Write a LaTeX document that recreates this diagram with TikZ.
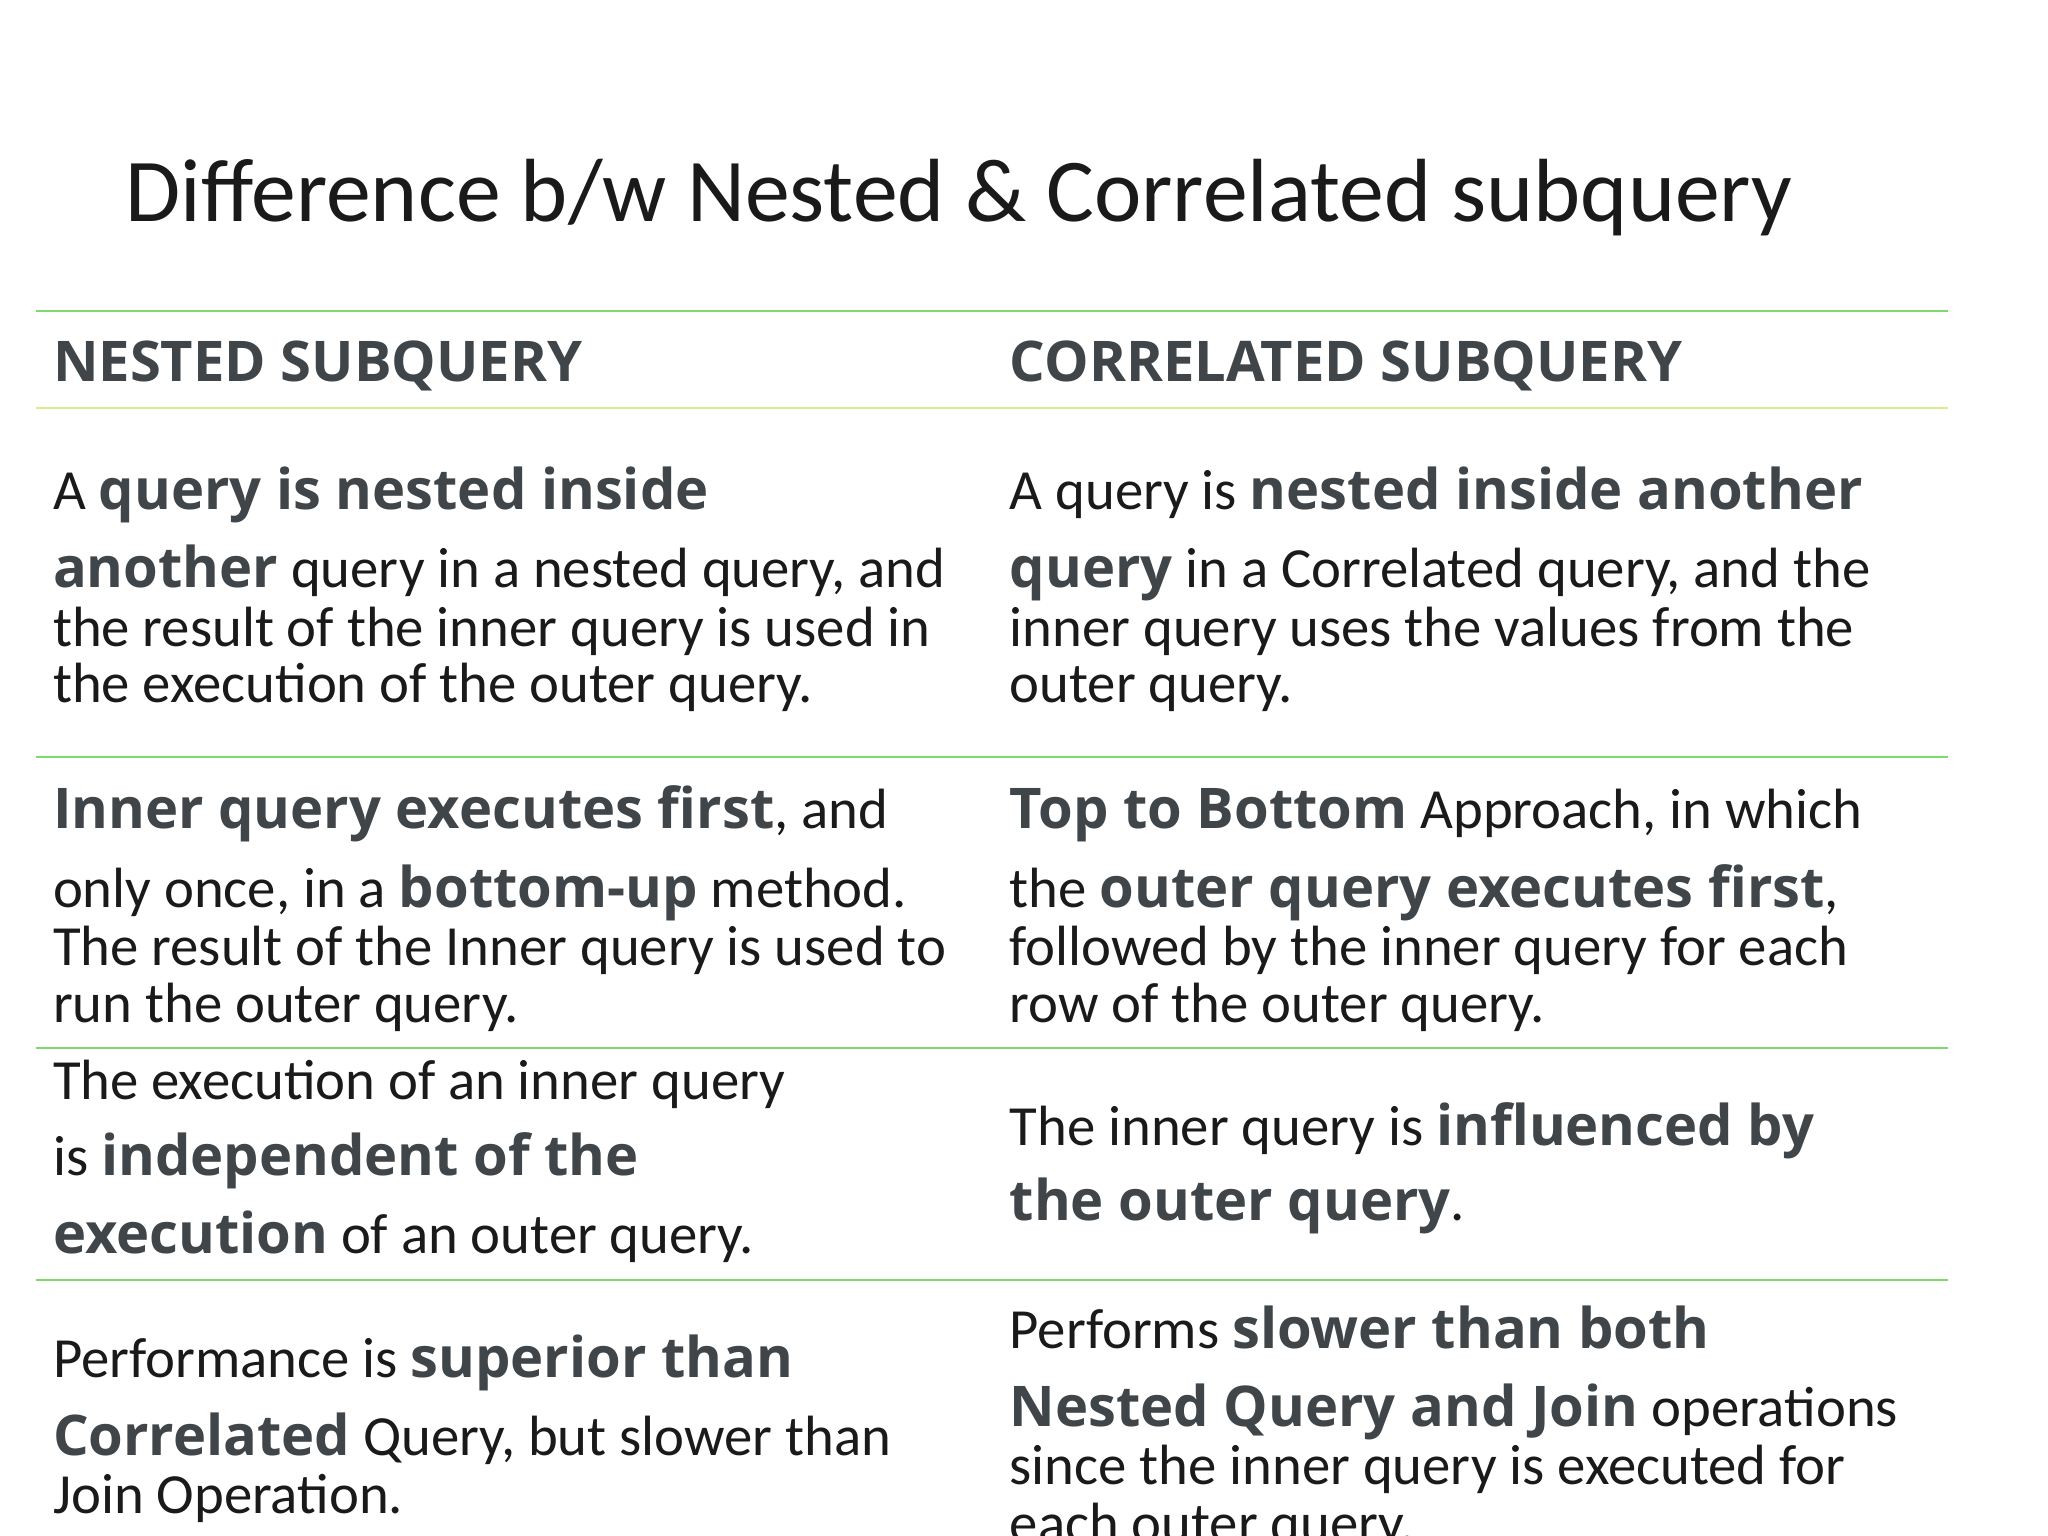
\documentclass[tikz,border=0pt]{standalone}
\usepackage{fontspec}
\setmainfont{Carlito}
\newfontfamily\osb{Open Sans}[UprightFont=* Bold]
\definecolor{txt}{HTML}{1A1A1A}
\definecolor{bld}{HTML}{3F4548}
\definecolor{gline}{HTML}{7DDB6E}
\definecolor{yline}{HTML}{D6EE8C}
\newcommand{\B}[1]{{\osb\color{bld}\fontsize{42.5}{48}\selectfont #1}}
\begin{document}
\begin{tikzpicture}[x=1pt,y=-1pt,
  ln/.style={anchor=base west,inner sep=0pt,text=txt,font=\fontsize{43}{48}\selectfont},
  hd/.style={anchor=base west,inner sep=0pt,text=bld,font=\osb\fontsize{42.5}{48}\selectfont},
  rule/.style={gline,line width=1.5pt}]
\useasboundingbox[fill=white] (0,0) rectangle (1552,1164);
\node[anchor=base west,inner sep=0pt,text=txt,font=\fontsize{68}{72}\selectfont] (title) at (95,168) {Difference b/w Nested \& Correlated subquery};
\coordinate (l0a) at (27,236); \coordinate (l0b) at (1476,236);
\coordinate (l1a) at (27,309); \coordinate (l1b) at (1476,309);
\coordinate (l2a) at (27,574); \coordinate (l2b) at (1476,574);
\coordinate (l3a) at (27,794); \coordinate (l3b) at (1476,794);
\coordinate (l4a) at (27,970); \coordinate (l4b) at (1476,970);
\draw[rule] (l0a)--(l0b); \draw[yline,line width=1.5pt] (l1a)--(l1b);
\draw[rule] (l2a)--(l2b); \draw[rule] (l3a)--(l3b); \draw[rule] (l4a)--(l4b);
\node[hd] (h1) at (40,289) {NESTED SUBQUERY};
\node[hd] (h2) at (765,289) {CORRELATED SUBQUERY};
% row 1
\node[ln] (a1) at (40,386) {A \B{query is nested inside}};
\node[ln] (a2) at (40,445) {\B{another} query in a nested query, and};
\node[ln] (a3) at (40,490) {the result of the inner query is used in};
\node[ln] (a4) at (40,532) {the execution of the outer query.};
\node[ln] (b1) at (765,386) {A query is \B{nested inside another}};
\node[ln] (b2) at (765,445) {\B{query} in a Correlated query, and the};
\node[ln] (b3) at (765,490) {inner query uses the values from the};
\node[ln] (b4) at (765,532) {outer query.};
% row 2
\node[ln] (c1) at (40,628) {\B{Inner query executes first}, and};
\node[ln] (c2) at (40,688) {only once, in a \B{bottom-up} method.};
\node[ln] (c3) at (40,732) {The result of the Inner query is used to};
\node[ln] (c4) at (40,775) {run the outer query.};
\node[ln] (d1) at (765,628) {\B{Top to Bottom} Approach, in which};
\node[ln] (d2) at (765,688) {the \B{outer query executes first},};
\node[ln] (d3) at (765,732) {followed by the inner query for each};
\node[ln] (d4) at (765,775) {row of the outer query.};
% row 3
\node[ln] (e1) at (40,833) {The execution of an inner query};
\node[ln] (e2) at (40,891) {is \B{independent of the}};
\node[ln] (e3) at (40,950) {\B{execution} of an outer query.};
\node[ln] (f1) at (765,868) {The inner query is \B{influenced by}};
\node[ln] (f2) at (765,925) {\B{the outer query}.};
% row 4
\node[ln] (g1) at (40,1044) {Performance is \B{superior than}};
\node[ln] (g2) at (40,1103) {\B{Correlated} Query, but slower than};
\node[ln] (g3) at (40,1147) {Join Operation.};
\node[ln] (k1) at (765,1022) {Performs \B{slower than both}};
\node[ln] (k2) at (765,1081) {\B{Nested Query and Join} operations};
\node[ln] (k3) at (765,1125) {since the inner query is executed for};
\node[ln] (k4) at (765,1169) {each outer query.};
\end{tikzpicture}
\end{document}
